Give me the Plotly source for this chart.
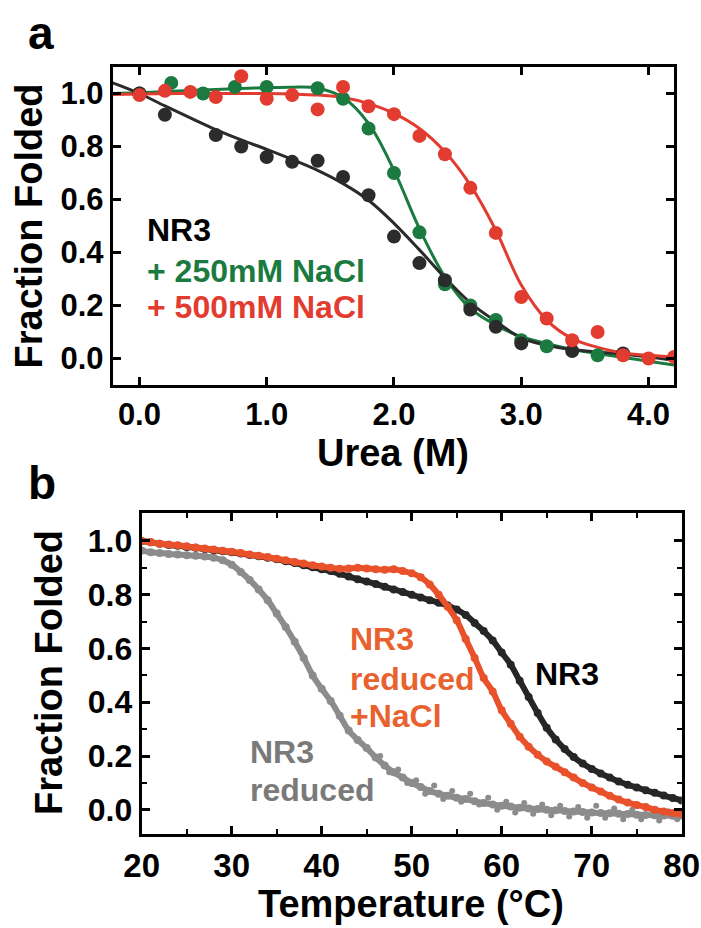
import plotly.graph_objects as go

# ---------------- Panel a data (urea denaturation) ----------------
urea_nr3 = [0.0, 0.2, 0.6, 0.8, 1.0, 1.2, 1.4, 1.6, 1.8, 2.0, 2.2, 2.4, 2.6, 2.8, 3.0, 3.4, 3.8]
frac_nr3 = [1.0, 0.92, 0.843, 0.80, 0.76, 0.742, 0.746, 0.685, 0.616, 0.46, 0.36, 0.295, 0.185, 0.12, 0.057, 0.028, 0.019]

urea_250 = [0.0, 0.25, 0.5, 0.75, 1.0, 1.4, 1.6, 1.8, 2.0, 2.2, 2.4, 2.6, 2.8, 3.0, 3.2, 3.6]
frac_250 = [1.0, 1.04, 1.0, 1.025, 1.025, 1.02, 0.98, 0.868, 0.70, 0.476, 0.28, 0.20, 0.145, 0.069, 0.046, 0.012]

urea_500 = [0.0, 0.2, 0.4, 0.6, 0.8, 1.0, 1.2, 1.4, 1.6, 1.8, 2.0, 2.2, 2.4, 2.6, 2.8, 3.0, 3.2, 3.4, 3.6, 3.8, 4.0, 4.2]
frac_500 = [0.994, 1.01, 1.006, 0.987, 1.065, 0.98, 0.994, 0.94, 1.025, 0.952, 0.922, 0.84, 0.771, 0.644, 0.474, 0.232, 0.151, 0.069, 0.10, 0.0125, 0.0, 0.006]

# fitted curves
urea_fit = [-0.21, 0.0, 0.2, 0.4, 0.6, 0.8, 1.0, 1.2, 1.4, 1.6, 1.8, 2.0, 2.2, 2.4, 2.6, 2.8, 3.0, 3.2, 3.4, 3.6, 3.8, 4.0, 4.2]
fit_nr3 = [1.04, 1.0, 0.953, 0.908, 0.864, 0.825, 0.789, 0.751, 0.71, 0.66, 0.597, 0.51, 0.41, 0.305, 0.21, 0.14, 0.078, 0.05, 0.034, 0.025, 0.016, 0.006, -0.006]
fit_250 = [1.0, 1.003, 1.007, 1.011, 1.015, 1.019, 1.022, 1.024, 1.02, 0.985, 0.887, 0.71, 0.49, 0.308, 0.189, 0.126, 0.082, 0.057, 0.034, 0.019, 0.004, -0.01, -0.025]
fit_500 = [0.996, 0.998, 0.999, 1.0, 1.0, 1.0, 1.0, 0.998, 0.994, 0.985, 0.962, 0.925, 0.868, 0.78, 0.654, 0.484, 0.277, 0.145, 0.075, 0.042, 0.021, 0.012, 0.006]

# ---------------- Panel b data (thermal melts) ----------------
temp = list(range(20, 81))
melt_nr3 = [1.00, 0.995, 0.99, 0.985, 0.982, 0.978, 0.975, 0.97, 0.966, 0.962,
            0.958, 0.953, 0.948, 0.943, 0.938, 0.932, 0.925, 0.918, 0.91, 0.902,
            0.895, 0.888, 0.878, 0.868, 0.858, 0.849, 0.84, 0.83, 0.82, 0.81,
            0.80, 0.79, 0.78, 0.77, 0.76, 0.745, 0.725, 0.695, 0.665, 0.63,
            0.585, 0.54, 0.48, 0.42, 0.36, 0.305, 0.262, 0.226, 0.196, 0.172,
            0.152, 0.135, 0.12, 0.105, 0.093, 0.083, 0.073, 0.063, 0.053, 0.044,
            0.035]
melt_red_nacl = [1.00, 0.995, 0.99, 0.987, 0.984, 0.98, 0.976, 0.972, 0.968, 0.964,
                 0.96, 0.955, 0.95, 0.945, 0.94, 0.934, 0.928, 0.922, 0.916, 0.91,
                 0.905, 0.9, 0.897, 0.898, 0.9, 0.898, 0.895, 0.893, 0.895, 0.888,
                 0.88, 0.865, 0.838, 0.80, 0.755, 0.705, 0.635, 0.565, 0.49, 0.44,
                 0.37, 0.32, 0.272, 0.235, 0.205, 0.18, 0.16, 0.14, 0.12, 0.10,
                 0.083, 0.068, 0.052, 0.038, 0.027, 0.018, 0.01, 0.0, -0.006, -0.012,
                 -0.016]
melt_red = [0.965, 0.958, 0.955, 0.952, 0.95, 0.947, 0.945, 0.942, 0.938, 0.928,
            0.912, 0.885, 0.855, 0.82, 0.78, 0.73, 0.68, 0.625, 0.565, 0.50,
            0.45, 0.405, 0.35, 0.295, 0.26, 0.23, 0.195, 0.165, 0.14, 0.12,
            0.10, 0.085, 0.07, 0.06, 0.052, 0.045, 0.04, 0.032, 0.025, 0.02,
            0.015, 0.012, 0.008, 0.005, 0.003, 0.0, -0.002, -0.004, -0.006, -0.008,
            -0.01, -0.012, -0.013, -0.015, -0.016, -0.018, -0.019, -0.02, -0.021, -0.022,
            -0.022]
# scattered points of the noisy reduced trace
temp_red_scatter = [46.5, 47.5, 48.5, 49.5, 50.5, 51.5, 52.5, 53.5, 54.5, 55.5, 56.5, 57.5,
                    58.5, 59.5, 60.5, 61.5, 62.5, 63.5, 64.5, 65.5, 66.5, 67.5, 68.5, 69.5,
                    70.5, 71.5, 72.5, 73.5, 74.5, 75.5, 76.5, 77.5, 78.5, 79.5]
melt_red_scatter = [0.20, 0.14, 0.15, 0.10, 0.11, 0.06, 0.09, 0.04, 0.07, 0.03, 0.06, 0.02,
                    0.045, 0.0, 0.03, -0.01, 0.025, -0.015, 0.02, -0.02, 0.015, -0.025, 0.01, -0.03,
                    0.015, -0.03, 0.005, -0.035, 0.0, -0.035, 0.005, -0.04, -0.005, -0.035]

FONT = "Liberation Sans, Arial, Helvetica, sans-serif"
BLACK_A, GREEN_A, RED_A = "#2b2b2b", "#1b7a3f", "#e23b30"
BLACK_B, ORANGE_B, GRAY_B = "#262626", "#e8512a", "#8c8c8c"

fig = go.Figure()

# panel a fits
for yv, col in [(fit_250, GREEN_A), (fit_nr3, BLACK_A), (fit_500, RED_A)]:
    fig.add_trace(go.Scatter(x=urea_fit, y=yv, mode="lines", line=dict(color=col, width=3, shape="spline"),
                             xaxis="x", yaxis="y", showlegend=False, hoverinfo="skip"))
# panel a points
for xv, yv, col in [(urea_250, frac_250, GREEN_A), (urea_nr3, frac_nr3, BLACK_A), (urea_500, frac_500, RED_A)]:
    fig.add_trace(go.Scatter(x=xv, y=yv, mode="markers", marker=dict(color=col, size=14),
                             xaxis="x", yaxis="y", showlegend=False))

# panel b
fig.add_trace(go.Scatter(x=temp_red_scatter, y=melt_red_scatter, mode="markers",
                         marker=dict(color=GRAY_B, size=6), xaxis="x2", yaxis="y2", showlegend=False))
for yv, col in [(melt_red, GRAY_B), (melt_nr3, BLACK_B), (melt_red_nacl, ORANGE_B)]:
    fig.add_trace(go.Scatter(x=temp, y=yv, mode="lines+markers",
                             line=dict(color=col, width=6, shape="spline"),
                             marker=dict(color=col, size=8),
                             xaxis="x2", yaxis="y2", showlegend=False))

W, H = 701, 928
def px(x):
    return x / W
def py(y):
    return 1 - y / H

def axis_style(size):
    return dict(showline=True, linewidth=3, linecolor="black", mirror="ticks",
                ticks="inside", tickwidth=3, ticklen=8, tickcolor="black",
                showgrid=False, zeroline=False, automargin=False,
                tickfont=dict(family=FONT, size=size, color="black", weight="bold"))

fig.update_layout(
    width=W, height=H, margin=dict(l=0, r=0, t=0, b=0, autoexpand=False),
    plot_bgcolor="white", paper_bgcolor="white",
    xaxis=dict(domain=[px(112.7), px(674)], range=[-0.21, 4.2], anchor="y",
               tickvals=[0, 1, 2, 3, 4], ticktext=["0.0", "1.0", "2.0", "3.0", "4.0"], **axis_style(31)),
    yaxis=dict(domain=[py(385), py(67)], range=[-0.1, 1.1], anchor="x",
               tickvals=[0, 0.2, 0.4, 0.6, 0.8, 1.0], tickformat=".1f", **axis_style(31)),
    xaxis2=dict(domain=[px(141.7), px(681.7)], range=[20, 80], anchor="y2",
                tickvals=[20, 30, 40, 50, 60, 70, 80],
                minor=dict(ticks="inside", ticklen=5, tickwidth=2, dtick=5, tickcolor="black", showgrid=False),
                **axis_style(33)),
    yaxis2=dict(domain=[py(834), py(513.3)], range=[-0.09, 1.103], anchor="x2",
                tickvals=[0, 0.2, 0.4, 0.6, 0.8, 1.0], tickformat=".1f",
                minor=dict(ticks="inside", ticklen=5, tickwidth=2, dtick=0.1, tickcolor="black", showgrid=False),
                **axis_style(32)),
)

def ann(text, x, y, size, color, xanchor="left", yanchor="middle", angle=0):
    fig.add_annotation(text=text, x=px(x), y=py(y), xref="paper", yref="paper",
                       xanchor=xanchor, yanchor=yanchor, showarrow=False, textangle=angle,
                       font=dict(family=FONT, size=size, color=color, weight="bold"))

# panel letters
ann("a", 41, 33, 46, "black", xanchor="center")
ann("b", 42, 483, 46, "black", xanchor="center")
# axis titles
ann("Fraction Folded", 28.5, 226, 38, "black", xanchor="center", angle=-90)
ann("Fraction Folded", 49, 673, 38, "black", xanchor="center", angle=-90)
ann("Urea (M)", 393, 453, 38, "black", xanchor="center")
ann("Temperature (°C)", 411, 904, 38, "black", xanchor="center")
# panel a labels
ann("NR3", 145, 230, 32, "black")
ann("+ 250mM NaCl", 145, 271, 32, GREEN_A)
ann("+ 500mM NaCl", 145, 306.5, 32, RED_A)
# panel b labels
ann("NR3", 567, 673.5, 32, "black", xanchor="center")
ann("NR3", 348, 639, 32, "#e8612e")
ann("reduced", 348, 679, 32, "#e8612e")
ann("+NaCl", 348, 716, 32, "#e8612e")
ann("NR3", 248, 751.5, 32, "#7a7a7a")
ann("reduced", 248, 790, 32, "#7a7a7a")

# remove the page's default body margin so the figure fills the window exactly
fig.write_html("out.html", config={"displayModeBar": False},
               post_script="document.body.style.margin='0';document.body.style.overflow='hidden';")
